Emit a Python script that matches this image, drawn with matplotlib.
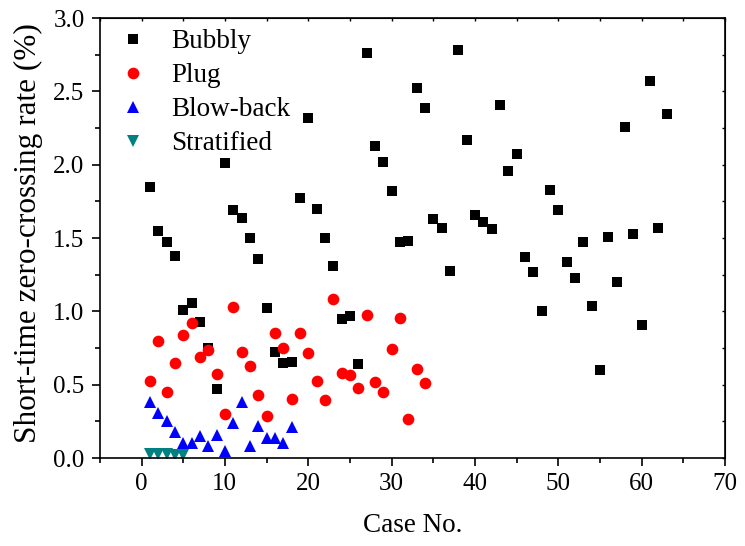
import matplotlib
matplotlib.use("Agg")
import matplotlib.pyplot as plt
from matplotlib.ticker import MultipleLocator, FormatStrFormatter

plt.rcParams['font.family'] = ['Liberation Serif', 'DejaVu Serif']
plt.rcParams['mathtext.fontset'] = 'stix'

# Short-time zero-crossing rate (%) per case, grouped by flow pattern
bubbly_case = list(range(1, 64))
bubbly_rate = [1.85, 1.55, 1.47, 1.38, 1.01, 1.06, 0.93, 0.75, 0.47, 2.01,
               1.69, 1.64, 1.50, 1.36, 1.02, 0.72, 0.65, 0.655, 1.77, 2.32,
               1.70, 1.50, 1.31, 0.95, 0.97, 0.64, 2.76, 2.13, 2.02, 1.82,
               1.47, 1.48, 2.52, 2.39, 1.63, 1.57, 1.275, 2.78, 2.17, 1.66,
               1.61, 1.56, 2.41, 1.96, 2.07, 1.37, 1.27, 1.00, 1.83, 1.69,
               1.34, 1.23, 1.47, 1.04, 0.60, 1.51, 1.20, 2.26, 1.53, 0.905,
               2.57, 1.57, 2.345]

plug_case = list(range(1, 35))
plug_rate = [0.525, 0.80, 0.45, 0.645, 0.84, 0.92, 0.69, 0.735, 0.57, 0.30,
             1.03, 0.72, 0.63, 0.43, 0.286, 0.85, 0.75, 0.40, 0.85, 0.715,
             0.525, 0.395, 1.085, 0.58, 0.565, 0.477, 0.975, 0.52, 0.45, 0.745,
             0.955, 0.265, 0.605, 0.51]

blowback_case = list(range(1, 19))
blowback_rate = [0.38, 0.31, 0.25, 0.18, 0.10, 0.10, 0.15, 0.08, 0.16, 0.05,
                 0.24, 0.38, 0.08, 0.22, 0.14, 0.14, 0.10, 0.21]

stratified_case = [1, 2, 3, 4, 5]
stratified_rate = [0.025, 0.028, 0.027, 0.022, 0.02]

fig = plt.figure(figsize=(7.45, 5.46), dpi=100)
ax = fig.add_axes([0.134, 0.161, 0.839, 0.806])

ax.plot(bubbly_case, bubbly_rate, 's', color='black', ms=7.6, mew=0, label='Bubbly')
ax.plot(plug_case, plug_rate, 'o', color='#ff0000', ms=8.4, mew=0, label='Plug')
ax.plot(blowback_case, blowback_rate, '^', color='#0000ff', ms=9.0, mew=0, label='Blow-back')
ax.plot(stratified_case, stratified_rate, 'v', color='#008080', ms=9.0, mew=0, label='Stratified')

ax.set_xlim(-5, 70)
ax.set_ylim(0, 3.0)
ax.xaxis.set_major_locator(MultipleLocator(10))
ax.xaxis.set_minor_locator(MultipleLocator(5))
ax.yaxis.set_major_locator(MultipleLocator(0.5))
ax.yaxis.set_minor_locator(MultipleLocator(0.25))
ax.yaxis.set_major_formatter(FormatStrFormatter('%.1f'))

for s in ax.spines.values():
    s.set_linewidth(1.2)

ax.tick_params(which='major', direction='out', length=6, width=1.2, labelsize=18, pad=5)
ax.tick_params(which='minor', direction='out', length=3.5, width=1.2)

# Inward ticks on the top and right spines
top = ax.secondary_xaxis('top')
top.xaxis.set_major_locator(MultipleLocator(10))
top.xaxis.set_minor_locator(MultipleLocator(5))
top.tick_params(which='both', direction='in', length=2.5, width=1.0, labeltop=False)
right = ax.secondary_yaxis('right')
right.yaxis.set_major_locator(MultipleLocator(0.5))
right.yaxis.set_minor_locator(MultipleLocator(0.25))
right.tick_params(which='both', direction='in', length=2.5, width=1.0, labelright=False)

ax.set_xlabel('Case No.', fontsize=19.5, labelpad=13)
ax.set_ylabel('Short-time zero-crossing rate (%)', fontsize=22.5)
ax.yaxis.set_label_coords(-0.091, 0.512)

ax.legend(loc='upper left', frameon=False, fontsize=19.5, handletextpad=0.6,
          labelspacing=0.33, borderaxespad=0.02, handlelength=1.6,
          bbox_to_anchor=(0.0, 1.0))

fig.savefig('out.png', dpi=100)
